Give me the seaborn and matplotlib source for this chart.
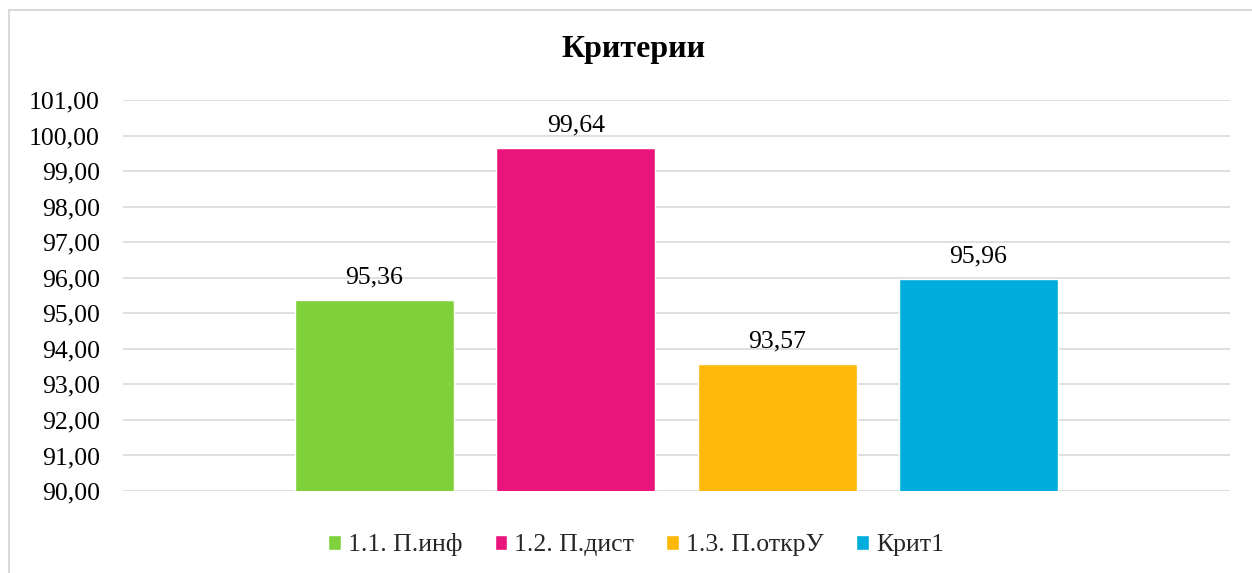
import numpy as np
import pandas as pd
import matplotlib
matplotlib.use("Agg")
import matplotlib.pyplot as plt
import matplotlib.patches as mpatches
from matplotlib.ticker import FuncFormatter
import seaborn as sns

# data
series = ["1.1. П.инф", "1.2. П.дист", "1.3. П.открУ", "Крит1"]
values = [95.36, 99.64, 93.57, 95.96]
colors = ["#7FD13B", "#EA157A", "#FEB80A", "#00ADDC"]
title = "Критерии"
y_ticks = list(range(90, 102))

df = pd.DataFrame({"cat": [""] * len(series), "series": series, "value": values})

sns.set_theme(style="white")
plt.rcParams["font.family"] = ["Liberation Serif", "DejaVu Serif"]

fig = plt.figure(figsize=(12.52, 5.73), dpi=100)
ax = fig.add_axes([0.0982, 0.1431, 0.8842, 0.6824])

sns.barplot(data=df, x="cat", y="value", hue="series", hue_order=series,
            palette=colors, gap=0.21, width=0.8, ax=ax, saturation=1,
            legend=True, err_kws={"linewidth": 0})

ax.set_ylim(90, 101)
ax.set_xlim(-0.55, 0.55)
ax.set_yticks(y_ticks)
ax.yaxis.set_major_formatter(FuncFormatter(lambda v, p: f"{v:.2f}".replace(".", ",")))
ax.tick_params(axis="y", labelsize=18.5, length=0, pad=16.5, colors="#000000")
ax.set_xticks([])
ax.set_xlabel("")
ax.set_ylabel("")
ax.grid(axis="y", color="#D9D9D9", linewidth=1.2)
ax.set_axisbelow(True)
for s in ax.spines.values():
    s.set_visible(False)

# value labels
for cont in ax.containers:
    ax.bar_label(cont, labels=[f"{v:.2f}".replace(".", ",") for v in cont.datavalues],
                 padding=8.5, fontsize=18.5, color="#000000")

handles, labels = ax.get_legend_handles_labels()
ax.get_legend().remove()
fig.legend(handles, labels, loc="center", bbox_to_anchor=(0.508, 1 - 545 / 573),
           ncol=4, frameon=False, fontsize=18.5, handlelength=0.5, handleheight=0.5,
           handletextpad=0.27, columnspacing=1.25)

fig.text(0.506, 1 - 50 / 573, title, ha="center", va="center", fontsize=23,
         fontweight="bold", color="#000000")

# outer chart border
fig.patches.append(mpatches.Rectangle((9 / 1252, -0.1), 1.2, 1 - 10 / 573 + 0.1,
                                      transform=fig.transFigure, fill=False,
                                      edgecolor="#D9D9D9", linewidth=1.5))

fig.savefig("out.png", dpi=100)
